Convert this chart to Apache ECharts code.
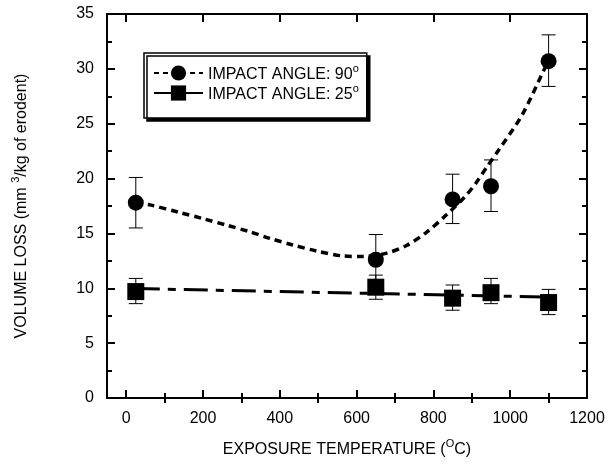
<!DOCTYPE html>
<html>
<head>
<meta charset="utf-8">
<script src="https://cdn.jsdelivr.net/npm/echarts@6/dist/echarts.min.js"></script>
<style>
  html, body { margin: 0; padding: 0; background: #fff; }
  #chart { width: 608px; height: 467px; }
</style>
</head>
<body>
<div id="chart"></div>
<script>
// measured points (exposure temperature, volume loss)
const tempX = [25, 650, 850, 950, 1100]
const loss90 = [17.8, 12.6, 18.1, 19.3, 30.7]
const loss90Low = [15.5, 10.3, 15.9, 17.0, 28.4]
const loss90High = [20.1, 14.9, 20.4, 21.7, 33.1]
const loss25 = [9.7, 10.1, 9.1, 9.6, 8.7]
const loss25Low = [8.6, 9.0, 8.0, 8.6, 7.6]
const loss25High = [10.9, 11.2, 10.3, 10.9, 9.9]

// fitted curves
const fit90X = [25, 62, 140, 200, 262, 322, 374, 434, 496, 564, 616, 678, 730, 782, 834, 881, 911, 940, 970, 1031, 1088, 1100]
const fit90Y = [17.8, 17.6, 16.9, 16.35, 15.75, 15.15, 14.55, 13.95, 13.4, 12.95, 12.9, 13.2, 13.9, 15.1, 16.7, 18.3, 19.6, 21.1, 22.6, 25.8, 29.9, 30.7]
const fit25X = [25, 1100]
const fit25Y = [9.97, 9.2]

const xMajor = [0, 200, 400, 600, 800, 1000, 1200]
const xMinor = [100, 300, 500, 700, 900, 1100]

const NAME90 = 'IMPACT ANGLE: 90°'
const NAME25 = 'IMPACT ANGLE: 25°'
const FONT = 'Liberation Sans, Arial, sans-serif'

const pairs = (xs, ys) => xs.map((x, i) => [x, ys[i]])
const bars = (lo, hi) => tempX.map((x, i) => [x, lo[i], hi[i]])

const chart = echarts.init(document.getElementById('chart'))

const supRich = {
  sup: { fontSize: 11, lineHeight: 11, fontFamily: FONT, color: '#000', verticalAlign: 'top' },
  t: { fontSize: 16, lineHeight: 20, fontFamily: FONT, color: '#000', verticalAlign: 'bottom' }
}

const xAxisBase = {
  type: 'value',
  min: -50,
  max: 1200,
  splitLine: { show: false },
  axisLine: { onZero: false, lineStyle: { color: '#000', width: 2 } },
  axisLabel: { show: false }
}

const xAxisFor = (position, ticks, len, extra) => Object.assign({}, xAxisBase, {
  position,
  axisTick: { show: true, inside: true, length: len, customValues: ticks, lineStyle: { color: '#000', width: 2 } }
}, extra || {})

const yAxisFor = (position, extra) => Object.assign({
  type: 'value',
  position,
  min: 0,
  max: 35,
  interval: 5,
  splitLine: { show: false },
  axisLine: { show: true, onZero: false, lineStyle: { color: '#000', width: 2 } },
  axisTick: { show: true, inside: true, length: 8, lineStyle: { color: '#000', width: 2 } },
  minorTick: { show: true, splitNumber: 2, length: 5, lineStyle: { color: '#000', width: 2 } },
  axisLabel: { show: false }
}, extra || {})

// error bars with caps
const errorBars = (params, api) => {
  const x = api.value(0)
  const top = api.coord([x, api.value(2)])
  const bot = api.coord([x, api.value(1)])
  const w = 7
  const style = { stroke: '#000', lineWidth: 1 }
  return {
    type: 'group',
    children: [
      { type: 'line', shape: { x1: top[0], y1: top[1], x2: bot[0], y2: bot[1] }, style },
      { type: 'line', shape: { x1: top[0] - w, y1: top[1], x2: top[0] + w, y2: top[1] }, style },
      { type: 'line', shape: { x1: bot[0] - w, y1: bot[1], x2: bot[0] + w, y2: bot[1] }, style }
    ]
  }
}

// wrap plain parts in {t|..} and the degree/power sign in {sup|..}
const withSup = (text, sup) => {
  const [a, b] = text.split('^')
  return `{t|${a}}{sup|${sup}}{t|${b}}`
}

const option = {
  backgroundColor: '#fff',
  animation: false,
  textStyle: { fontFamily: FONT },
  grid: { left: 107, right: 21, top: 14, bottom: 69 },
  legend: {
    left: 144,
    top: 53,
    orient: 'vertical',
    padding: [10, 8, 15, 9],
    itemGap: 0,
    itemWidth: 49,
    itemHeight: 19,
    backgroundColor: '#fff',
    borderColor: '#000',
    borderWidth: 1.5,
    borderRadius: 0,
    shadowColor: '#000',
    shadowBlur: 0,
    shadowOffsetX: 3,
    shadowOffsetY: 3,
    data: [
      { name: NAME90, lineStyle: { type: [5, 4] } },
      { name: NAME25, lineStyle: { type: 'solid' } }
    ],
    formatter: name => withSup(name.replace('°', '^'), 'o'),
    textStyle: { fontSize: 16, fontFamily: FONT, color: '#000', rich: supRich }
  },
  xAxis: [
    xAxisFor('bottom', xMajor, 8, {
      axisLabel: {
        show: true, customValues: xMajor, formatter: v => String(v),
        fontSize: 16, fontFamily: FONT, color: '#000', margin: 13
      },
      name: withSup('EXPOSURE TEMPERATURE (^C)', 'O'),
      nameLocation: 'middle',
      nameGap: 40,
      nameTextStyle: { fontSize: 16, fontFamily: FONT, color: '#000', rich: supRich }
    }),
    xAxisFor('bottom', xMinor, 5, { axisLine: { show: false } }),
    xAxisFor('top', xMajor, 8),
    xAxisFor('top', xMinor, 5, { axisLine: { show: false } })
  ],
  yAxis: [
    yAxisFor('left', {
      axisLabel: { show: true, fontSize: 16, fontFamily: FONT, color: '#000', margin: 13 },
      name: withSup('VOLUME LOSS (mm ^/kg of erodent)', '3'),
      nameLocation: 'middle',
      nameGap: 77,
      nameTextStyle: { fontSize: 16, fontFamily: FONT, color: '#000', rich: supRich }
    }),
    yAxisFor('right')
  ],
  series: [
    {
      name: NAME90,
      type: 'line',
      data: pairs(fit90X, fit90Y),
      smooth: 0.3,
      symbol: 'circle',
      symbolSize: 15,
      showSymbol: false,
      itemStyle: { color: '#000' },
      lineStyle: { color: '#000', width: 3.5, type: [7, 5] },
      z: 2
    },
    {
      name: NAME25,
      type: 'line',
      data: pairs(fit25X, fit25Y),
      symbol: 'rect',
      symbolSize: 15,
      showSymbol: false,
      itemStyle: { color: '#000' },
      lineStyle: { color: '#000', width: 3, type: [24, 8, 8, 8] },
      z: 2
    },
    {
      type: 'custom',
      renderItem: errorBars,
      data: bars(loss90Low, loss90High),
      encode: { x: 0, y: [1, 2] },
      z: 3
    },
    {
      type: 'custom',
      renderItem: errorBars,
      data: bars(loss25Low, loss25High),
      encode: { x: 0, y: [1, 2] },
      z: 3
    },
    {
      type: 'scatter',
      data: pairs(tempX, loss90),
      symbol: 'circle',
      symbolSize: 16,
      itemStyle: { color: '#000', opacity: 1 },
      z: 4
    },
    {
      type: 'scatter',
      data: pairs(tempX, loss25),
      symbol: 'rect',
      symbolSize: 17,
      itemStyle: { color: '#000', opacity: 1 },
      z: 4
    }
  ]
}

chart.setOption(option)
</script>
</body>
</html>
